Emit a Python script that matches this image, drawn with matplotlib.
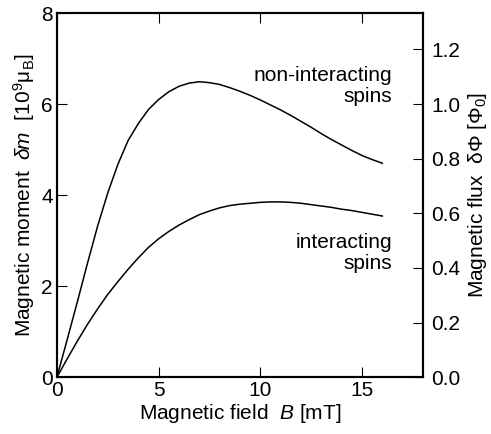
import matplotlib
matplotlib.use('Agg')
import matplotlib.pyplot as plt

# field values (mT) and induced moments (10^9 mu_B)
field = [0, 0.5, 1, 1.5, 2, 2.5, 3, 3.5, 4, 4.5, 5, 5.5, 6, 6.5, 7, 7.5, 8,
         8.5, 9, 9.5, 10, 10.5, 11, 11.5, 12, 12.5, 13, 13.5, 14, 14.5, 15,
         15.5, 16]
moment_free = [0, 0.82, 1.65, 2.5, 3.32, 4.05, 4.68, 5.2, 5.57, 5.88, 6.1,
               6.27, 6.39, 6.46, 6.49, 6.47, 6.43, 6.36, 6.28, 6.19, 6.09,
               5.98, 5.87, 5.75, 5.62, 5.49, 5.35, 5.22, 5.1, 4.98, 4.87,
               4.78, 4.7]
moment_interacting = [0, 0.4, 0.79, 1.16, 1.5, 1.82, 2.1, 2.37, 2.62, 2.85,
                      3.04, 3.2, 3.34, 3.46, 3.57, 3.65, 3.72, 3.77, 3.8,
                      3.82, 3.84, 3.85, 3.85, 3.84, 3.82, 3.79, 3.76, 3.73,
                      3.69, 3.66, 3.62, 3.58, 3.54]

# one moment unit corresponds to 1/6 flux quantum
flux_per_moment = 1.0 / 6.0

plt.rcParams['font.family'] = ['Liberation Sans', 'DejaVu Sans']
plt.rcParams['mathtext.fontset'] = 'custom'
plt.rcParams['mathtext.rm'] = 'Liberation Sans'
plt.rcParams['mathtext.it'] = 'Liberation Sans:italic'
plt.rcParams['font.size'] = 15

fig = plt.figure(figsize=(4.91, 4.34), dpi=100)
ax = fig.add_axes([0.116, 0.131, 0.7455, 0.839])

ax.plot(field, moment_free, color='black', lw=1.1)
ax.plot(field, moment_interacting, color='black', lw=1.1)

ax.set_xlim(0, 18)
ax.set_ylim(0, 8)
ax.set_xticks([0, 5, 10, 15])
ax.set_yticks([0, 2, 4, 6, 8])
ax.tick_params(direction='in', length=7, width=0.8, top=True, right=False, pad=3)
for s in ax.spines.values():
    s.set_linewidth(1.5)

ax.set_xlabel(r'Magnetic field  $B$ [mT]', labelpad=1)
ax.set_ylabel(r'Magnetic moment  $\delta m$  [10$^{9}$$\mathrm{\mu_B}$]', labelpad=3)

ax.text(16.5, 6.4, 'non-interacting\nspins', ha='right', va='center',
        linespacing=1.1)
ax.text(16.5, 2.73, 'interacting\nspins', ha='right', va='center',
        linespacing=1.1)

ax2 = ax.twinx()
ax2.set_ylim(0, 8 * flux_per_moment)
ax2.set_yticks([0.0, 0.2, 0.4, 0.6, 0.8, 1.0, 1.2])
ax2.set_yticklabels(['0.0', '0.2', '0.4', '0.6', '0.8', '1.0', '1.2'])
ax2.tick_params(direction='in', length=7, width=0.8, pad=6)
for s in ax2.spines.values():
    s.set_linewidth(1.5)
ax2.set_ylabel('Magnetic flux  δΦ [Φ$_0$]', rotation=90, labelpad=4)

fig.savefig('out.png', dpi=100)
